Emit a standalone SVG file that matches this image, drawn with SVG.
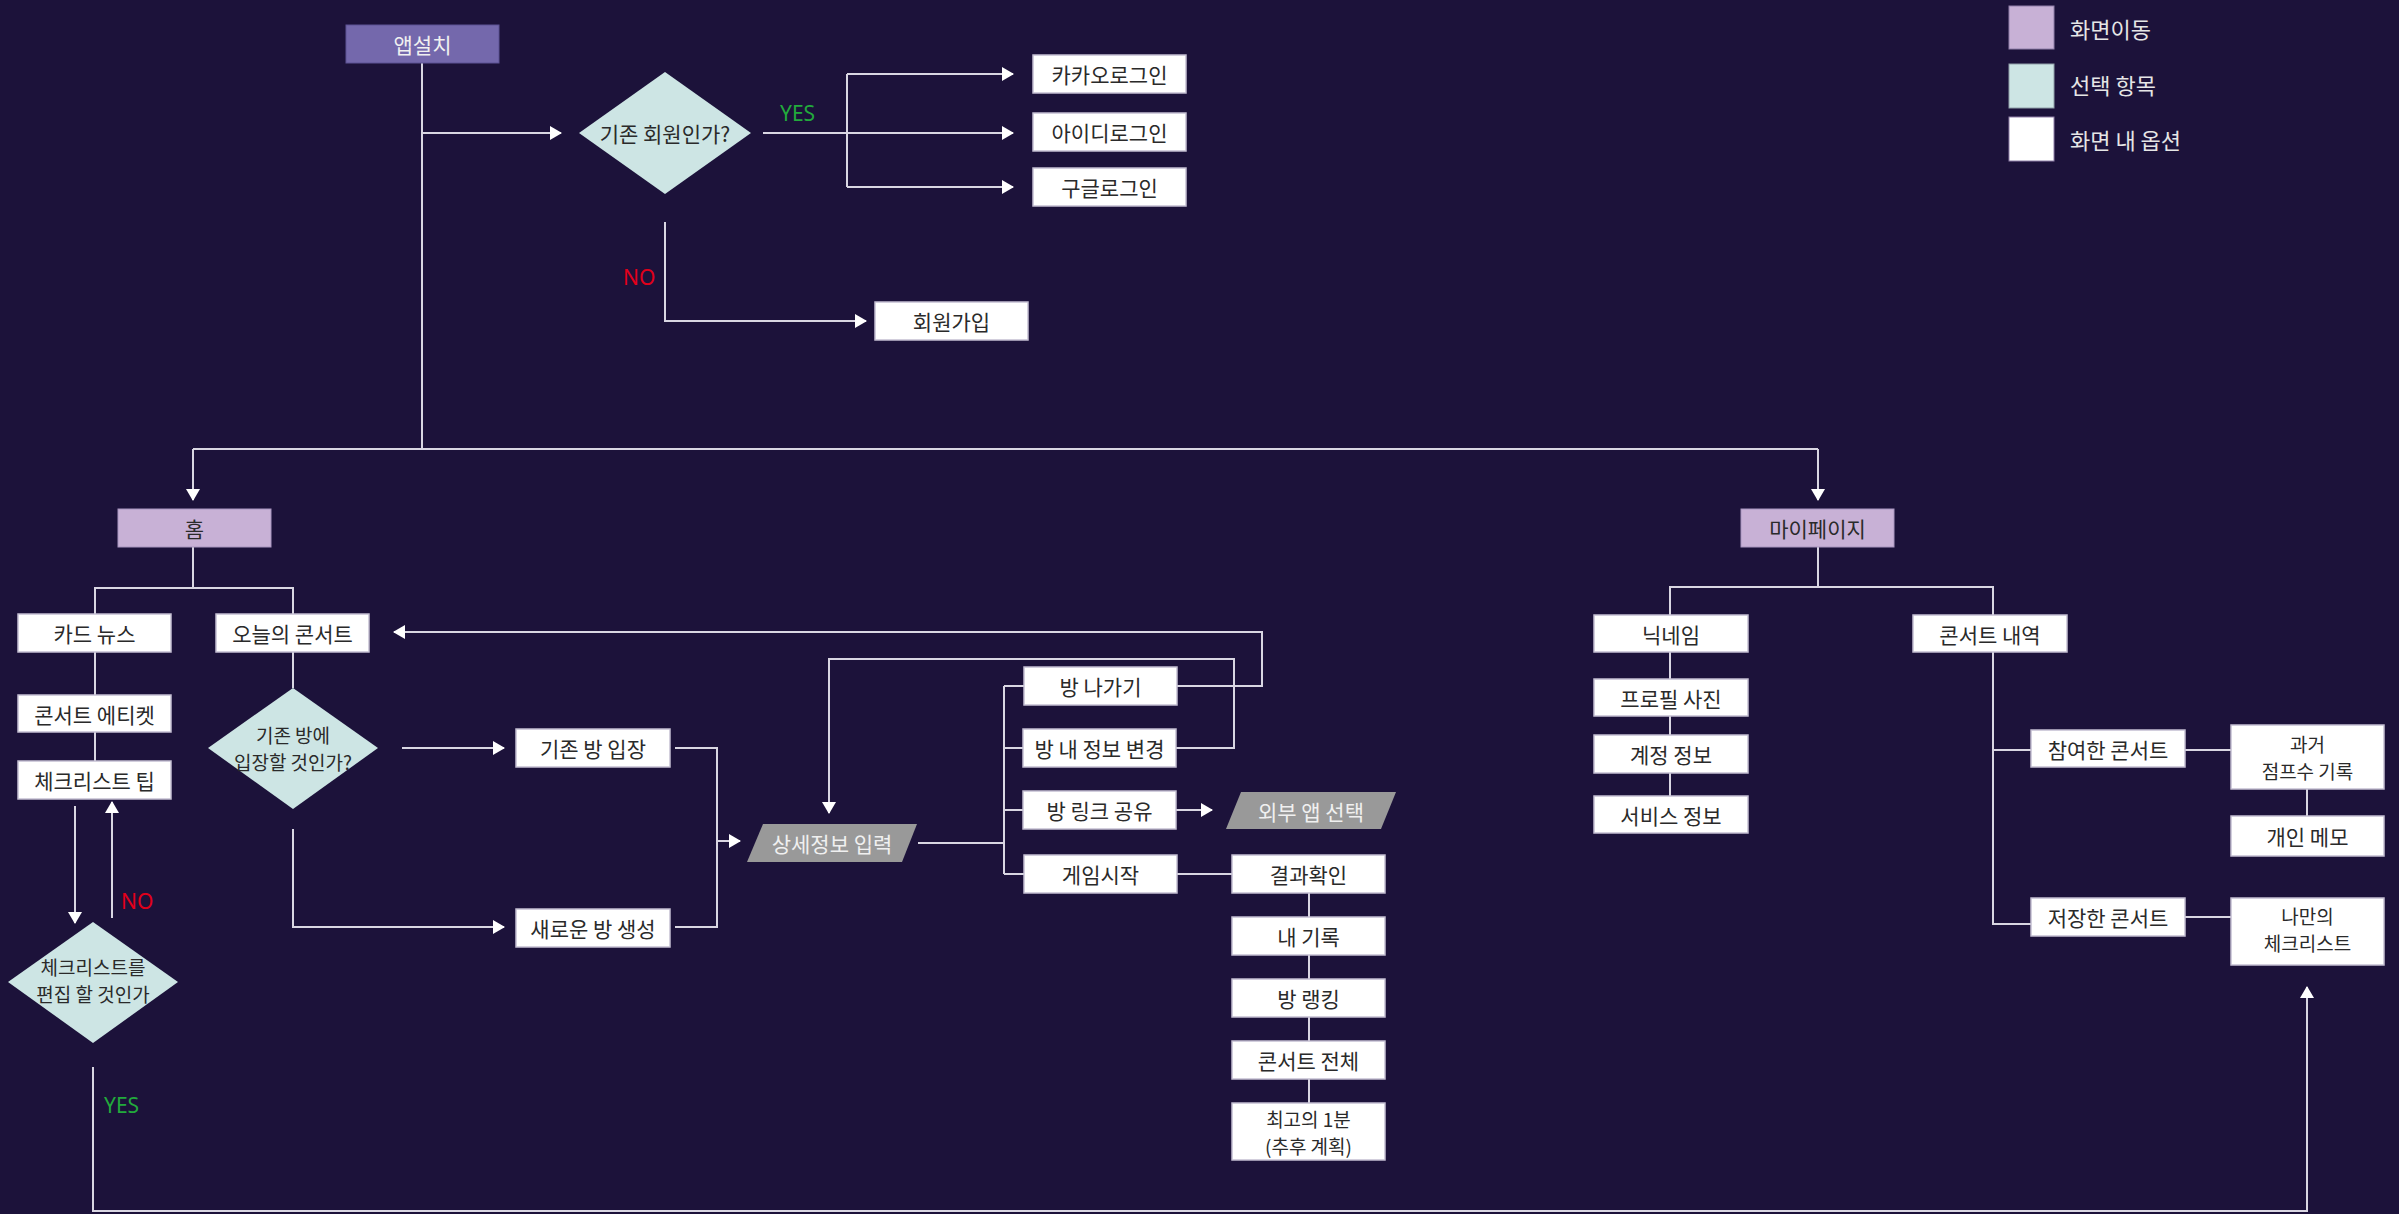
<svg xmlns="http://www.w3.org/2000/svg" width="2399" height="1214" viewBox="0 0 2399 1214">
<style>
.opt{fill:#ffffff;stroke:#c4bfd2;stroke-width:1.5}
.nav{fill:#c8b1d6;stroke:#a895bf;stroke-width:1}
.app{fill:#7468ac;stroke:#5d5294;stroke-width:1}
.sel{fill:#cde5e4}
.io{fill:#999999}
text{font-family:"Noto Sans CJK KR","Noto Sans",sans-serif;font-size:21px;text-anchor:middle;dominant-baseline:central;fill:#2a2a2a}
.m{font-size:19px}
.tw{fill:#f0f0f0}
.tl{fill:#e6e6e6;text-anchor:start;font-size:22px}
.yes{fill:#22aa3c;text-anchor:start;font-family:"Noto Sans","Liberation Sans",sans-serif;font-size:21px}
.no{fill:#e2001a;text-anchor:start;font-family:"Noto Sans","Liberation Sans",sans-serif;font-size:21px}
.c{fill:none;stroke:#d9d6e2;stroke-width:2}
.a{marker-end:url(#arr)}
</style>
<defs>
<marker id="arr" markerUnits="userSpaceOnUse" markerWidth="12" markerHeight="14" refX="11" refY="7" orient="auto">
<path d="M0,0 L12,7 L0,14 z" fill="#ffffff"/>
</marker>
</defs>
<rect x="0" y="0" width="2399" height="1214" fill="#1c123a"/>

<g id="connectors">
<path class="c" d="M422,63 V449"/>
<path class="c a" d="M422,133 H561"/>
<path class="c a" d="M763,133 H1013"/>
<path class="c" d="M847,74 V187"/>
<path class="c a" d="M847,74 H1013"/>
<path class="c a" d="M847,187 H1013"/>
<path class="c a" d="M665,222 V321 H866"/>
<path class="c" d="M193,449 H1818"/>
<path class="c a" d="M193,449 V500"/>
<path class="c a" d="M1818,449 V500"/>
<path class="c" d="M193,547 V588"/>
<path class="c" d="M95,614 V588 H293 V614"/>
<path class="c" d="M95,652 V695"/>
<path class="c" d="M95,732 V761"/>
<path class="c a" d="M75,806 V923"/>
<path class="c a" d="M112,918 V802"/>
<path class="c a" d="M93,1067 V1211 H2307 V987"/>
<path class="c" d="M293,652 V688"/>
<path class="c a" d="M402,748 H504"/>
<path class="c a" d="M293,829 V927 H504"/>
<path class="c" d="M675,748 H717 V927 H675"/>
<path class="c a" d="M717,841 H740"/>
<path class="c" d="M918,843 H1004"/>
<path class="c" d="M1004,686 V874"/>
<path class="c" d="M1004,686 H1024"/>
<path class="c" d="M1004,748 H1023"/>
<path class="c" d="M1004,810 H1023"/>
<path class="c" d="M1004,874 H1024"/>
<path class="c a" d="M1177,686 H1262 V632 H394"/>
<path class="c a" d="M1176,748 H1234 V659 H829 V813"/>
<path class="c a" d="M1176,810 H1212"/>
<path class="c" d="M1177,874 H1232"/>
<path class="c" d="M1309,893 V917 M1309,955 V979 M1309,1017 V1041 M1309,1079 V1103"/>
<path class="c" d="M1818,547 V587"/>
<path class="c" d="M1670,615 V587 H1993 V615"/>
<path class="c" d="M1670,652 V679 M1670,716 V735 M1670,773 V796"/>
<path class="c" d="M1993,652 V924 H2031"/>
<path class="c" d="M1993,750 H2031"/>
<path class="c" d="M2185,750 H2231"/>
<path class="c" d="M2185,917 H2231"/>
<path class="c" d="M2307,789 V816"/>
</g>

<g id="labels">
<text class="yes" x="780" y="113">YES</text>
<text class="no" x="623" y="277">NO</text>
<text class="no" x="121" y="901">NO</text>
<text class="yes" x="104" y="1105">YES</text>
</g>

<g id="app-install"><rect class="app" x="346" y="25" width="153" height="38"/><text class="tw" x="422.5" y="44">앱설치</text></g>
<g id="q-member"><polygon class="sel" points="579,133 665,72 751,133 665,194"/><text x="665" y="133">기존 회원인가?</text></g>
<g id="kakao"><rect class="opt" x="1033" y="55" width="153" height="38"/><text x="1109.5" y="74">카카오로그인</text></g>
<g id="id-login"><rect class="opt" x="1033" y="113" width="153" height="38"/><text x="1109.5" y="132">아이디로그인</text></g>
<g id="google"><rect class="opt" x="1033" y="168" width="153" height="38"/><text x="1109.5" y="187">구글로그인</text></g>
<g id="join"><rect class="opt" x="875" y="302" width="153" height="38"/><text x="951.5" y="321">회원가입</text></g>

<g id="home"><rect class="nav" x="118" y="509" width="153" height="38"/><text x="194.5" y="528" fill="#444">홈</text></g>
<g id="mypage"><rect class="nav" x="1741" y="509" width="153" height="38"/><text x="1817.5" y="528">마이페이지</text></g>

<g id="card-news"><rect class="opt" x="18" y="614" width="153" height="38"/><text x="94.5" y="633">카드 뉴스</text></g>
<g id="today"><rect class="opt" x="216" y="614" width="153" height="38"/><text x="292.5" y="633">오늘의 콘서트</text></g>
<g id="etiquette"><rect class="opt" x="18" y="695" width="153" height="37"/><text x="94.5" y="713.5">콘서트 에티켓</text></g>
<g id="tip"><rect class="opt" x="18" y="761" width="153" height="38"/><text x="94.5" y="780">체크리스트 팁</text></g>
<g id="q-edit"><polygon class="sel" points="8,982 93,922 178,982 93,1043"/><text class="m" x="93" y="966">체크리스트를</text><text class="m" x="93" y="993">편집 할 것인가</text></g>
<g id="q-room"><polygon class="sel" points="208,748 293,688 378,748 293,809"/><text class="m" x="293" y="734">기존 방에</text><text class="m" x="293" y="761">입장할 것인가?</text></g>
<g id="enter"><rect class="opt" x="516" y="729" width="154" height="38"/><text x="593" y="748">기존 방 입장</text></g>
<g id="create"><rect class="opt" x="516" y="909" width="154" height="38"/><text x="593" y="928">새로운 방 생성</text></g>
<g id="detail"><polygon class="io" points="763,824 917,824 902,862 747,862"/><text class="tw" x="832" y="843">상세정보 입력</text></g>
<g id="leave"><rect class="opt" x="1024" y="667" width="153" height="38"/><text x="1100.5" y="686">방 나가기</text></g>
<g id="change"><rect class="opt" x="1023" y="729" width="153" height="38"/><text x="1099.5" y="748">방 내 정보 변경</text></g>
<g id="share"><rect class="opt" x="1023" y="791" width="153" height="38"/><text x="1099.5" y="810">방 링크 공유</text></g>
<g id="external"><polygon class="io" points="1241,792 1396,792 1381,829 1226,829"/><text class="tw" x="1311" y="810.5">외부 앱 선택</text></g>
<g id="game"><rect class="opt" x="1024" y="855" width="153" height="38"/><text x="1100.5" y="874">게임시작</text></g>
<g id="result"><rect class="opt" x="1232" y="855" width="153" height="38"/><text x="1308.5" y="874">결과확인</text></g>
<g id="my-record"><rect class="opt" x="1232" y="917" width="153" height="38"/><text x="1308.5" y="936">내 기록</text></g>
<g id="rank"><rect class="opt" x="1232" y="979" width="153" height="38"/><text x="1308.5" y="998">방 랭킹</text></g>
<g id="all"><rect class="opt" x="1232" y="1041" width="153" height="38"/><text x="1308.5" y="1060">콘서트 전체</text></g>
<g id="best"><rect class="opt" x="1232" y="1103" width="153" height="57"/><text class="m" x="1308.5" y="1118">최고의 1분</text><text class="m" x="1308.5" y="1145">(추후 계획)</text></g>

<g id="nickname"><rect class="opt" x="1594" y="615" width="154" height="37"/><text x="1671" y="633.5">닉네임</text></g>
<g id="profile"><rect class="opt" x="1594" y="679" width="154" height="37"/><text x="1671" y="697.5">프로필 사진</text></g>
<g id="account"><rect class="opt" x="1594" y="735" width="154" height="38"/><text x="1671" y="754">계정 정보</text></g>
<g id="service"><rect class="opt" x="1594" y="796" width="154" height="37"/><text x="1671" y="814.5">서비스 정보</text></g>
<g id="history"><rect class="opt" x="1913" y="615" width="154" height="37"/><text x="1990" y="633.5">콘서트 내역</text></g>
<g id="joined"><rect class="opt" x="2031" y="730" width="154" height="37"/><text x="2108" y="748.5">참여한 콘서트</text></g>
<g id="saved"><rect class="opt" x="2031" y="898" width="154" height="38"/><text x="2108" y="917">저장한 콘서트</text></g>
<g id="past"><rect class="opt" x="2231" y="725" width="153" height="64"/><text class="m" x="2307.5" y="743">과거</text><text class="m" x="2307.5" y="770">점프수 기록</text></g>
<g id="memo"><rect class="opt" x="2231" y="816" width="153" height="40"/><text x="2307.5" y="836">개인 메모</text></g>
<g id="mylist"><rect class="opt" x="2231" y="898" width="153" height="67"/><text class="m" x="2307.5" y="915">나만의</text><text class="m" x="2307.5" y="942">체크리스트</text></g>

<g id="legend">
<rect x="2009" y="6" width="45" height="43" fill="#c8b1d6" stroke="#8f7fa8" stroke-width="1"/>
<rect x="2009" y="64" width="45" height="44" fill="#cde5e4" stroke="#8f9fa8" stroke-width="1"/>
<rect x="2009" y="117" width="45" height="44" fill="#ffffff" stroke="#8f7fa8" stroke-width="1"/>
<text class="tl" x="2070" y="28">화면이동</text>
<text class="tl" x="2070" y="84">선택 항목</text>
<text class="tl" x="2070" y="139">화면 내 옵션</text>
</g>
</svg>
